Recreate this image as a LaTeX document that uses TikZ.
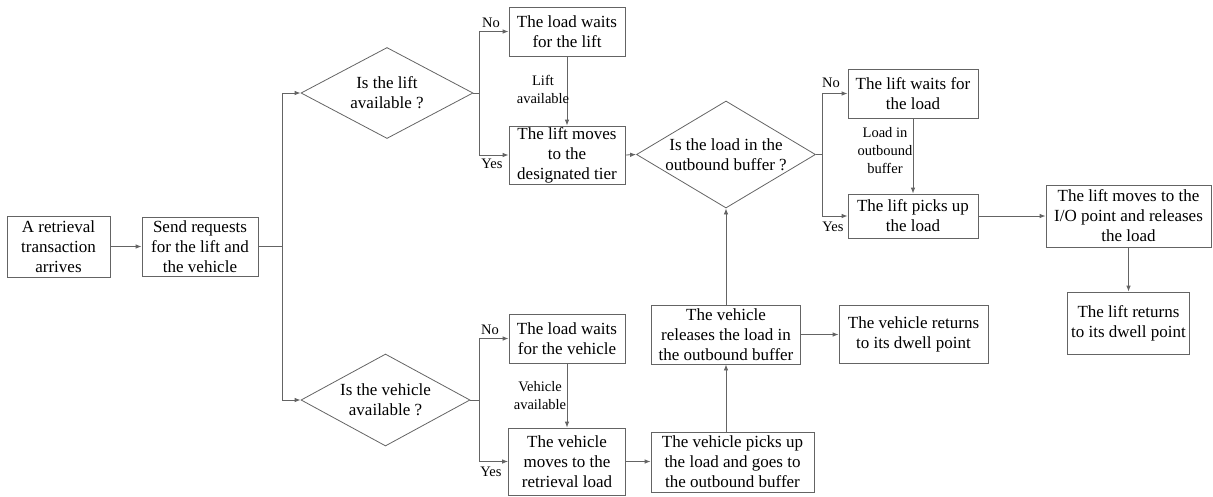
\documentclass[tikz,border=0pt]{standalone}
\usepackage{fontspec}
\setmainfont{Liberation Serif}
\usetikzlibrary{shapes.geometric,arrows.meta}
\definecolor{linecol}{RGB}{100,100,100}
\definecolor{txtcol}{RGB}{0,0,0}
\begin{document}
\begin{tikzpicture}[x=1pt,y=-1pt,
  box/.style={draw=linecol,line width=0.8pt,rectangle,inner sep=0pt,align=center,text=txtcol,
    font=\fontsize{17}{20}\selectfont},
  dia/.style={draw=linecol,line width=0.8pt,diamond,inner sep=0pt},
  diatext/.style={align=center,text=txtcol,font=\fontsize{17}{20}\selectfont},
  lbl/.style={align=center,text=txtcol,inner sep=0pt,font=\fontsize{14.5}{18}\selectfont},
  arr/.style={draw=linecol,line width=0.8pt,-{Latex[length=6pt,width=4.5pt]}},
  ln/.style={draw=linecol,line width=0.8pt}]
\useasboundingbox (0,0) rectangle (1213,496);

% boxes
\node[box,minimum width=103pt,minimum height=61pt] (A) at (58.5,246.5) {A retrieval\\transaction\\arrives};
\node[box,minimum width=116pt,minimum height=59pt] (S) at (200,246.5) {Send requests\\for the lift and\\the vehicle};

\node[dia,minimum width=172pt,minimum height=91pt] (D1) at (387,93) {};
\node[diatext] at (D1.center) {Is the lift\\available ?};
\node[dia,minimum width=169pt,minimum height=92pt] (D3) at (385.5,400) {};
\node[diatext] at (D3.center) {Is the vehicle\\available ?};
\node[dia,minimum width=179pt,minimum height=107pt] (D2) at (726,154.5) {};
\node[diatext] at (D2.center) {Is the load in the\\outbound buffer ?};

\node[box,minimum width=116pt,minimum height=49pt] (LW) at (567,31.5) {The load waits\\for the lift};
\node[box,minimum width=116pt,minimum height=58pt] (LM) at (567,155) {The lift moves\\to the\\designated tier};
\node[box,minimum width=130pt,minimum height=49pt] (LWL) at (913,93.5) {The lift waits for\\the load};
\node[box,minimum width=130pt,minimum height=44pt] (LP) at (913,216) {The lift picks up\\the load};
\node[box,minimum width=165pt,minimum height=62pt] (LIO) at (1128.5,216) {The lift moves to the\\I/O point and releases\\the load};
\node[box,minimum width=122pt,minimum height=62pt] (LR) at (1128.5,323) {The lift returns\\to its dwell point};

\node[box,minimum width=116pt,minimum height=49pt] (VW) at (567,338.5) {The load waits\\for the vehicle};
\node[box,minimum width=117pt,minimum height=67pt] (VM) at (567,461.5) {The vehicle\\moves to the\\retrieval load};
\node[box,minimum width=163pt,minimum height=60pt] (VP) at (732.5,462) {The vehicle picks up\\the load and goes to\\the outbound buffer};
\node[box,minimum width=149pt,minimum height=59pt] (VR) at (726,334.5) {The vehicle\\releases the load in\\the outbound buffer};
\node[box,minimum width=149pt,minimum height=58pt] (VRet) at (913.5,334) {The vehicle returns\\to its dwell point};

% junction coordinates
\coordinate (bus) at (282,246.5);
\coordinate (j1) at (479,93);
\coordinate (j2) at (822,154.5);
\coordinate (j3) at (479,400);

% connectors
\draw[arr] (A) -- (S);
\draw[ln] (S.east) -- (bus);
\draw[arr] (bus) |- (D1.west);
\draw[arr] (bus) |- (D3.west);

\draw[ln] (D1.east) -- (j1);
\draw[arr] (j1) |- (LW.west);
\draw[arr] (j1) |- (LM.west);
\draw[arr] (LW) -- (LM);
\draw[arr] (LM.east) -- (D2.west);

\draw[ln] (D2.east) -- (j2);
\draw[arr] (j2) |- (LWL.west);
\draw[arr] (j2) |- (LP.west);
\draw[arr] (LWL) -- (LP);
\draw[arr] (LP.east) -- (LIO.west |- LP.east);
\draw[arr] (LIO) -- (LR);

\draw[ln] (D3.east) -- (j3);
\draw[arr] (j3) |- (VW.west);
\draw[arr] (j3) |- (VM.west);
\draw[arr] (VW) -- (VM);
\draw[arr] (VM.east) -- (VP.west |- VM.east);
\draw[arr] (VR.south |- VP.north) -- (VR.south);
\draw[arr] (VR.north) -- (D2.south);
\draw[arr] (VR.east) -- (VRet.west |- VR.east);

% labels
\node[lbl] (n1) at (491,23) {No};
\node[lbl] (y1) at (492,164) {Yes};
\node[lbl] (n2) at (831,83) {No};
\node[lbl] (y2) at (833,227) {Yes};
\node[lbl] (n3) at (490,330) {No};
\node[lbl] (y3) at (491,472) {Yes};
\node[lbl] (la) at (543,89) {Lift\\available};
\node[lbl] (va) at (540,396) {Vehicle\\available};
\node[lbl] (lo) at (885,151) {Load in\\outbound\\buffer};
\end{tikzpicture}
\end{document}
